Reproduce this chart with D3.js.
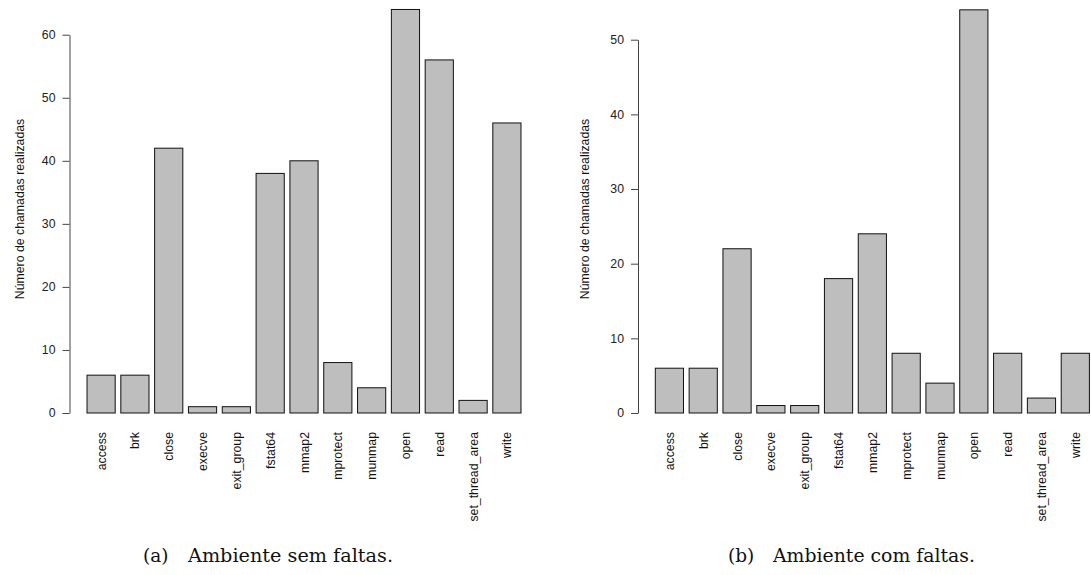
<!DOCTYPE html>
<html>
<head>
<meta charset="utf-8">
<script src="https://cdn.jsdelivr.net/npm/d3@7"></script>
<style>
  body { margin: 0; background: #fff; }
  svg { display: block; font-family: 'Liberation Sans', Arial, sans-serif; }
</style>
</head>
<body>
<script>
const categories = ['access', 'brk', 'close', 'execve', 'exit_group', 'fstat64', 'mmap2',
  'mprotect', 'munmap', 'open', 'read', 'set_thread_area', 'write']

const semFaltas = [6, 6, 42, 1, 1, 38, 40, 8, 4, 64, 56, 2, 46]
const comFaltas = [6, 6, 22, 1, 1, 18, 24, 8, 4, 54, 8, 2, 8]

const ticksA = [0, 10, 20, 30, 40, 50, 60]
const ticksB = [0, 10, 20, 30, 40, 50]

const yLabel = 'Número de chamadas realizadas'

const width = 1091
const height = 575
const fs = 12.3

const svg = d3.select('body').append('svg')
  .attr('width', width)
  .attr('height', height)

function Panel (opts) {
  const g = svg.append('g')

  const x = d3.scaleBand()
    .domain(categories)
    .range([opts.barLeft, opts.barRight])
    .paddingInner(0.2 / 1.2)
    .paddingOuter(0)

  const y = d3.scaleLinear()
    .domain([0, d3.max(opts.ticks)])
    .range([opts.zeroY, opts.topY])

  const data = categories.map((c, i) => ({ name: c, value: opts.values[i] }))

  g.selectAll('rect')
    .data(data)
    .enter()
    .append('rect')
    .attr('x', d => x(d.name))
    .attr('y', d => y(d.value))
    .attr('width', x.bandwidth())
    .attr('height', d => y(0) - y(d.value))
    .attr('fill', '#bebebe')
    .attr('stroke', '#111')
    .attr('stroke-width', 1)

  const axis = g.append('g')
    .attr('transform', 'translate(' + opts.axisX + ',0)')
    .call(d3.axisLeft(y).tickValues(opts.ticks).tickSizeInner(7).tickSizeOuter(0).tickPadding(7))

  axis.selectAll('path, line').attr('stroke', '#444')
  axis.selectAll('text')
    .attr('font-size', fs)
    .attr('fill', '#222')
    .attr('font-family', "'Liberation Sans', Arial, sans-serif")

  g.selectAll('text.cat')
    .data(data)
    .enter()
    .append('text')
    .attr('class', 'cat')
    .attr('transform', d => 'translate(' + (x(d.name) + x.bandwidth() / 2 + 4.5) + ',' + opts.catY + ') rotate(-90)')
    .attr('text-anchor', 'end')
    .attr('font-size', fs)
    .attr('fill', '#111')
    .text(d => d.name)

  g.append('text')
    .attr('transform', 'translate(' + opts.labelX + ',' + opts.labelY + ') rotate(-90)')
    .attr('text-anchor', 'middle')
    .attr('font-size', fs)
    .attr('fill', '#111')
    .text(yLabel)

  const cap = g.append('g')
    .attr('font-family', "'DejaVu Serif', 'Liberation Serif', serif")
    .attr('font-size', 18.5)
    .attr('fill', '#111')
  cap.append('text')
    .attr('x', opts.capX)
    .attr('y', 562)
    .text(opts.capTag)
  cap.append('text')
    .attr('x', opts.capX + 45)
    .attr('y', 562)
    .attr('textLength', opts.capLen)
    .attr('lengthAdjust', 'spacingAndGlyphs')
    .text(opts.capText)
}

Panel({
  values: semFaltas,
  ticks: ticksA,
  barLeft: 87,
  barRight: 521,
  axisX: 69.5,
  zeroY: 413,
  topY: 34.7,
  catY: 432,
  labelX: 24,
  labelY: 209,
  capX: 143,
  capTag: '(a)',
  capText: 'Ambiente sem faltas.',
  capLen: 205
})

Panel({
  values: comFaltas,
  ticks: ticksB,
  barLeft: 655.3,
  barRight: 1089.4,
  axisX: 638,
  zeroY: 413,
  topY: 39.7,
  catY: 432,
  labelX: 589,
  labelY: 209,
  capX: 728,
  capTag: '(b)',
  capText: 'Ambiente com faltas.',
  capLen: 202
})
</script>
</body>
</html>
